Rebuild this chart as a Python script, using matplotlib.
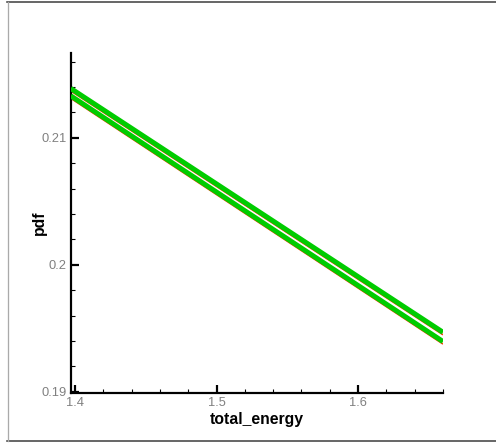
import matplotlib
matplotlib.use("Agg")
import matplotlib.pyplot as plt
from matplotlib.lines import Line2D
from matplotlib.transforms import offset_copy
from matplotlib.ticker import MultipleLocator

# data
x_vals = [1.397, 1.66]
pdf_upper = [0.21388, 0.19468]
pdf_lower = [0.21330, 0.19395]
x_ticks = [1.4, 1.5, 1.6]
x_tick_labels = ["1.4", "1.5", "1.6"]
y_ticks = [0.19, 0.2, 0.21]
y_tick_labels = ["0.19", "0.2", "0.21"]

W, H = 496, 443
PX = 72 / 100  # points per pixel
fig = plt.figure(figsize=(W / 100, H / 100), dpi=100)
ax = fig.add_axes([71 / W, 1 - 393 / H, (443 - 71) / W, (393 - 53) / H])

green = "#00cc00"
red = "#ff3a00"
red_tr = offset_copy(ax.transData, fig=fig, x=0, y=-2.5, units="dots")
for ys in (pdf_upper, pdf_lower):
    ax.plot(x_vals, ys, color=red, lw=1.6 * PX, transform=red_tr, solid_capstyle="butt", zorder=2)
    ax.plot(x_vals, ys, color=green, lw=5.0 * PX, solid_capstyle="butt", zorder=3)

ax.set_xlim(1.3972, 1.66)
ax.set_ylim(0.1899, 0.21667)

ax.set_xticks(x_ticks)
ax.set_xticklabels(x_tick_labels)
ax.set_yticks(y_ticks)
ax.set_yticklabels(y_tick_labels)
ax.xaxis.set_minor_locator(MultipleLocator(0.02))
ax.yaxis.set_minor_locator(MultipleLocator(0.002))

for s in ("top", "right"):
    ax.spines[s].set_visible(False)
for s in ("left", "bottom"):
    ax.spines[s].set_linewidth(2.2 * PX)
    ax.spines[s].set_color("black")

ax.tick_params(which="major", direction="in", length=8 * PX, width=2.2 * PX, color="black",
               labelsize=9.3, labelcolor="#808080", pad=3)
ax.tick_params(which="minor", direction="in", length=4 * PX, width=1.1 * PX, color="black")
for lab in ax.get_xticklabels() + ax.get_yticklabels():
    lab.set_fontfamily("Liberation Sans")

ax.set_xlabel("total_energy", fontsize=11.3, fontweight="bold", family="Liberation Sans", labelpad=2)
ax.set_ylabel("pdf", fontsize=11.3, fontweight="bold", family="Liberation Sans", labelpad=-3.5)

# outer frame
fig.add_artist(Line2D([7 / W, 1], [1 - 1.5 / H, 1 - 1.5 / H], color="#444444", lw=1.6 * PX))
fig.add_artist(Line2D([7 / W, 1], [1 - 441 / H, 1 - 441 / H], color="#444444", lw=1.6 * PX))
fig.add_artist(Line2D([7.5 / W, 7.5 / W], [1 - 441 / H, 1 - 1.5 / H], color="#aaaaaa", lw=1.3 * PX))

fig.savefig("out.png", dpi=100)
